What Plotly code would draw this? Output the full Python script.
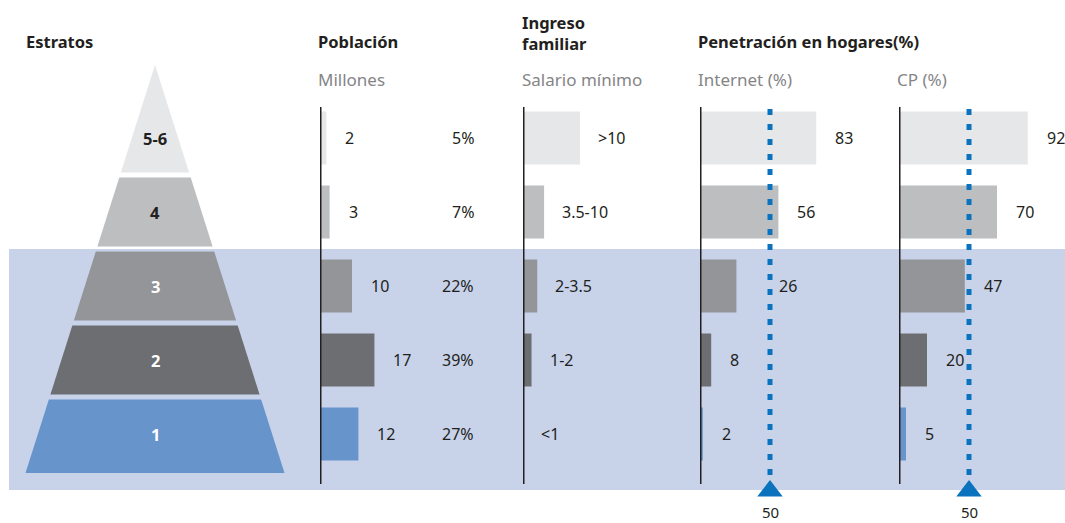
import plotly.graph_objects as go

# ---------------- data ----------------
estratos = ["1", "2", "3", "4", "5-6"]              # bottom -> top
poblacion_millones = [12, 17, 10, 3, 2]
poblacion_pct = ["27%", "39%", "22%", "7%", "5%"]
ingreso_rango = ["<1", "1-2", "2-3.5", "3.5-10", ">10"]
ingreso_nivel = [0.0, 1.5, 2.5, 3.7, 10.0]          # bar length, salario mínimo
internet_pct = [2, 8, 26, 56, 83]
cp_pct = [5, 20, 47, 70, 92]
referencia = 50

# ---------------- styles ----------------
colores = ["#6794cb", "#6d6e71", "#939598", "#bcbec0", "#e6e7e8"]
texto_piramide = ["white", "white", "white", "#231f20", "#231f20"]
DARK = "#231f20"
GREY = "#858587"
BLUE = "#0b72bd"
BAND = "#c8d3ea"
FONT = "Noto Sans"

W, H = 1065, 523
ROW_PX = 74.0      # pixels between rows
ROW0_PX = 434.0    # pixel row of the bottom stratum


def py(pix):
    """pixel row -> y data value"""
    return (ROW0_PX - pix) / ROW_PX


def pyp(pix):
    """pixel row -> paper y"""
    return 1 - pix / H


idx = list(range(len(estratos)))

# panels: axis, left pixel, px per unit, right pixel
panels = {
    "x2": (320, 3.2, 500),
    "x3": (523, 5.7, 690),
    "x4": (700, 1.4, 890),
    "x5": (899, 1.4, 1065),
}

fig = go.Figure()
shapes = []
ann = []

# ---------------- pyramid ----------------
apex_y = py(65)
base_y = py(473)
base_hw = 129.5
cx = 155
gap = 2.5 / ROW_PX


def hw(y):
    return base_hw * (apex_y - y) / (apex_y - base_y)


for i in idx:
    lo = base_y if i == 0 else i - 0.5 + gap
    hi = apex_y if i == len(idx) - 1 else i + 0.5 - gap
    xs = [cx - hw(lo), cx + hw(lo), cx + hw(hi), cx - hw(hi), cx - hw(lo)]
    ys = [lo, lo, hi, hi, lo]
    fig.add_trace(go.Scatter(x=xs, y=ys, fill="toself", fillcolor=colores[i],
                             mode="lines", line=dict(width=0), xaxis="x", yaxis="y",
                             hoverinfo="skip", showlegend=False))
    ann.append(dict(x=cx, y=i, xref="x", yref="y", text=f"<b>{estratos[i]}</b>",
                    showarrow=False, font=dict(family=FONT, size=16.5, color=texto_piramide[i])))

# ---------------- bars ----------------
series = {
    "x2": poblacion_millones,
    "x3": ingreso_nivel,
    "x4": internet_pct,
    "x5": cp_pct,
}
for ax, vals in series.items():
    fig.add_trace(go.Bar(orientation="h", y=idx, x=vals, marker=dict(color=colores, line=dict(width=0)),
                         width=53 / ROW_PX, xaxis=ax, yaxis="y", hoverinfo="skip", showlegend=False))

# value labels
num_font = dict(family=FONT, size=16, color=DARK)
for i in idx:
    ann.append(dict(x=poblacion_millones[i], y=i, xref="x2", yref="y", text=str(poblacion_millones[i]),
                    xanchor="left", xshift=17, showarrow=False, font=num_font))
    ann.append(dict(x=476 / W, y=i, xref="paper", yref="y", text=poblacion_pct[i],
                    xanchor="right", showarrow=False, font=num_font))
    ann.append(dict(x=ingreso_nivel[i], y=i, xref="x3", yref="y", text=ingreso_rango[i],
                    xanchor="left", xshift=16, showarrow=False, font=num_font))

for ax, vals in (("x4", internet_pct), ("x5", cp_pct)):
    scale = panels[ax][1]
    for i in idx:
        v = vals[i]
        start = v * scale + 17
        line_px = referencia * scale
        if v < referencia and start < line_px + 8 and start + 20 > line_px - 4:
            ann.append(dict(x=referencia, y=i, xref=ax, yref="y", text=str(v), xanchor="left",
                            xshift=7, showarrow=False, font=num_font))
        else:
            ann.append(dict(x=v, y=i, xref=ax, yref="y", text=str(v), xanchor="left",
                            xshift=17, showarrow=False, font=num_font))

# ---------------- decorations ----------------
shapes.append(dict(type="rect", xref="paper", yref="y", x0=9 / W, x1=1, y0=py(490), y1=2.5,
                   fillcolor=BAND, line=dict(width=0), layer="below"))
for ax in panels:
    shapes.append(dict(type="line", xref=ax, yref="y", x0=0, x1=0, y0=py(484), y1=py(107),
                       line=dict(color=DARK, width=3), layer="above"))
for ax in ("x4", "x5"):
    shapes.append(dict(type="line", xref=ax, yref="y", x0=referencia, x1=referencia,
                       y0=py(475), y1=py(107), line=dict(color=BLUE, width=5, dash="6px,9px"),
                       layer="above"))
    fig.add_trace(go.Scatter(x=[referencia], y=[py(491)], mode="markers", xaxis=ax, yaxis="y",
                             marker=dict(symbol="triangle-up", size=22, color=BLUE, line=dict(width=0)),
                             hoverinfo="skip", showlegend=False))
    ann.append(dict(x=referencia, y=py(512), xref=ax, yref="y", text=str(referencia),
                    showarrow=False, font=dict(family=FONT, size=15, color=DARK)))

# ---------------- headers ----------------
hdr = dict(family=FONT, size=16.5, color=DARK)
sub = dict(family=FONT, size=17, color=GREY)
for text, xp, yp, f in [
    ("<b>Estratos</b>", 24, 42, hdr),
    ("<b>Población</b>", 316, 42, hdr),
    ("<b>Ingreso<br>familiar</b>", 520, 33, hdr),
    ("<b>Penetración en hogares(%)</b>", 696, 42, hdr),
    ("Millones", 316, 80, sub),
    ("Salario mínimo", 520, 80, sub),
    ("Internet (%)", 696, 80, sub),
    ("CP (%)", 895, 80, sub),
]:
    ann.append(dict(x=xp / W, y=pyp(yp), xref="paper", yref="paper", text=text, xanchor="left",
                    yanchor="middle", align="left", showarrow=False, font=f))

# ---------------- layout ----------------
hidden = dict(visible=False, showgrid=False, zeroline=False, fixedrange=True)
layout = dict(
    width=W, height=H, margin=dict(l=0, r=0, t=0, b=0),
    paper_bgcolor="white", plot_bgcolor="rgba(0,0,0,0)",
    showlegend=False, barmode="overlay",
    shapes=shapes, annotations=ann,
    yaxis=dict(hidden, domain=[0, 1], range=[py(H), py(0)], anchor="x"),
    xaxis=dict(hidden, domain=[0, 300 / W], range=[0, 300], anchor="y"),
)
for ax, (left, scale, right) in panels.items():
    layout["xaxis" + ax[1:]] = dict(hidden, domain=[left / W, right / W],
                                    range=[0, (right - left) / scale], anchor="y")
fig.update_layout(**layout)

fig.write_html("out.html", config={"displayModeBar": False},
               post_script="document.body.style.margin='0';document.body.style.overflow='hidden';")
